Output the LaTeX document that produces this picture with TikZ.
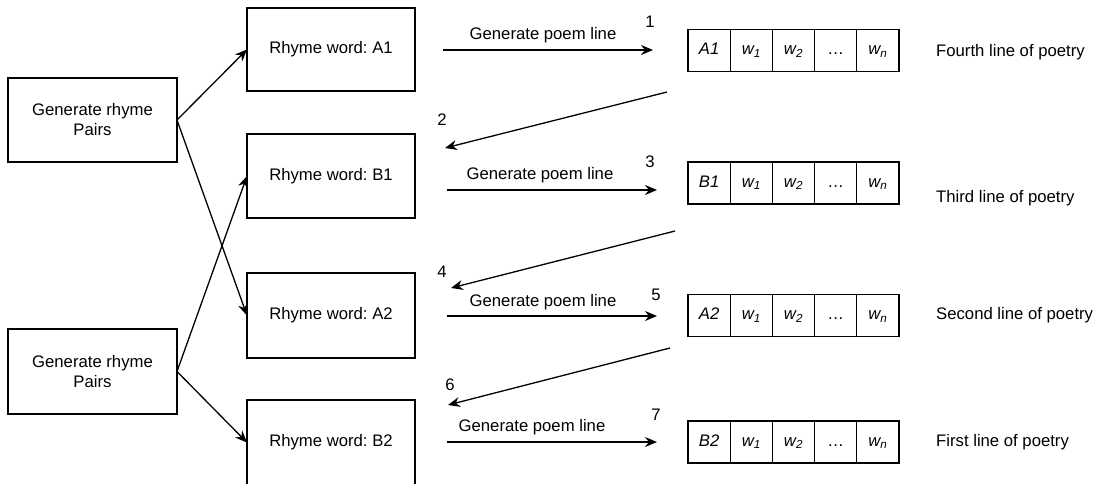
\documentclass[tikz,border=0pt]{standalone}
\usepackage{fontspec}
\setmainfont[Ligatures=NoCommon]{Liberation Sans}
\usetikzlibrary{arrows.meta}
\frenchspacing
\begin{document}
\begin{tikzpicture}[x=1pt,y=-1pt,
  font=\fontsize{16.7}{20}\selectfont,
  box/.style={draw, line width=1.3pt, minimum width=168pt, minimum height=84pt,
    align=center, inner sep=0pt, outer sep=0pt},
  cell/.style={draw, line width=1.3pt, minimum width=42.2pt, minimum height=42pt,
    text height=12pt, text depth=3.5pt,
    inner sep=0pt, outer sep=0pt, anchor=west, font=\fontsize{16.7}{20}\selectfont\itshape},
  link/.style={line width=1.3pt, -{Stealth[length=12pt,width=10pt,inset=4pt]}},
  txt/.style={inner sep=0pt}
]
\useasboundingbox (0,0) rectangle (1096,483);

% rhyme pair generators
\node[box, minimum width=169pt] (g1) at (92.5,120) {Generate rhyme\\Pairs};
\node[box, minimum width=169pt, minimum height=85pt] (g2) at (92.5,371.5) {Generate rhyme\\Pairs};

% rhyme words
\node[box, minimum height=83pt] (a1) at (331,49.5) {Rhyme word: A1};
\node[box] (b1) at (331,176) {Rhyme word: B1};
\node[box, minimum height=85pt] (a2) at (331,315.5) {Rhyme word: A2};
\node[box, minimum height=85pt] (b2) at (331,442.5) {Rhyme word: B2};

\draw[link] (g1.east) -- (a1.west);
\draw[link] (g1.east) -- (a2.west);
\draw[link] (g2.east) -- (b1.west);
\draw[link] (g2.east) -- (b2.west);

% poem line rows
\foreach \r/\y/\lab in {1/50.5/A1, 2/183/B1, 3/315.5/A2, 4/442/B2}{
  \node[cell] (r\r c1) at (688,\y) {\lab};
  \node[cell] (r\r c2) at (r\r c1.east) {w\textsubscript{1}};
  \node[cell] (r\r c3) at (r\r c2.east) {w\textsubscript{2}};
  \node[cell, font=\fontsize{16.7}{20}\selectfont] (r\r c4) at (r\r c3.east) {.\kern0.5pt.\kern0.5pt.};
  \node[cell] (r\r c5) at (r\r c4.east) {w\textsubscript{\itshape n}};
}

\node[txt, anchor=west] (l1) at (936,52) {Fourth line of poetry};
\node[txt, anchor=west] (l2) at (936,198) {Third line of poetry};
\node[txt, anchor=west] (l3) at (936,315) {Second line of poetry};
\node[txt, anchor=west] (l4) at (936,442) {First line of poetry};

% generate poem line arrows
\coordinate (s1) at (443,50);  \coordinate (e1) at (653,50);
\coordinate (s3) at (447,190); \coordinate (e3) at (657,190);
\coordinate (s5) at (447,316); \coordinate (e5) at (657,316);
\coordinate (s7) at (447,442); \coordinate (e7) at (657,442);
\draw[link] (s1) -- (e1);
\draw[link] (s3) -- (e3);
\draw[link] (s5) -- (e5);
\draw[link] (s7) -- (e7);
\node[txt] (t1) at (543,35) {Generate poem line};
\node[txt] (t3) at (540,175) {Generate poem line};
\node[txt] (t5) at (543,302) {Generate poem line};
\node[txt] (t7) at (532,427) {Generate poem line};

% return arrows
\coordinate (s2) at (667,92);  \coordinate (e2) at (445,148);
\coordinate (s4) at (675,231); \coordinate (e4) at (451,288);
\coordinate (s6) at (670,348); \coordinate (e6) at (448,405);
\draw[link] (s2) -- (e2);
\draw[link] (s4) -- (e4);
\draw[link] (s6) -- (e6);

% step numbers
\node[txt] (n1) at (650,22) {1};
\node[txt] (n2) at (442,120) {2};
\node[txt] (n3) at (650,162) {3};
\node[txt] (n4) at (442,272) {4};
\node[txt] (n5) at (656,295) {5};
\node[txt] (n6) at (450,385) {6};
\node[txt] (n7) at (656,415) {7};
\end{tikzpicture}
\end{document}
